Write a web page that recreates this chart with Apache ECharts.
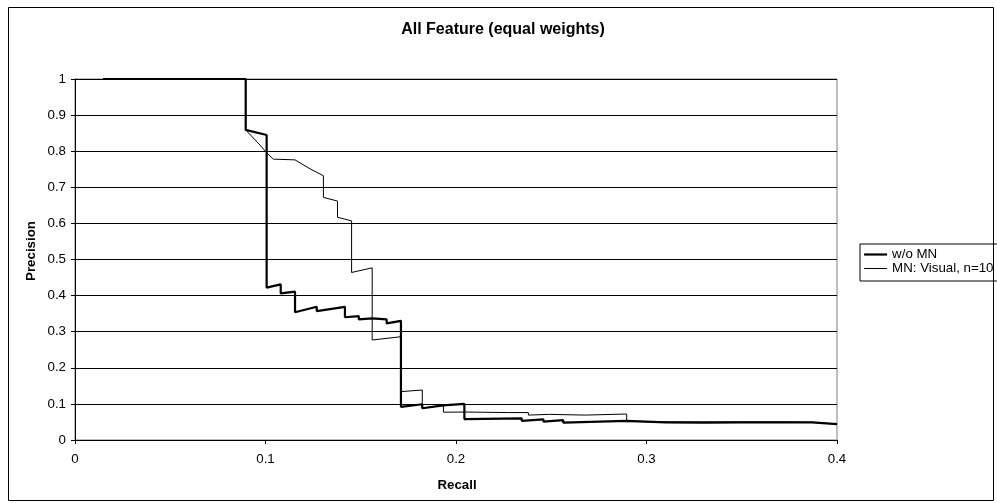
<!DOCTYPE html>
<html>
<head>
<meta charset="utf-8">
<script src="https://cdn.jsdelivr.net/npm/echarts@6/dist/echarts.min.js"></script>
<style>html,body{margin:0;padding:0;background:#fff}#c{width:997px;height:503px}</style>
</head>
<body>
<div id="c"></div>
<script>
var titleText = 'All Feature (equal weights)';
var xTitle = 'Recall';
var yTitle = 'Precision';
var seriesNames = ['w/o MN', 'MN: Visual, n=10'];

var recallA = [0.0147,0.0896,0.0896,0.1006,0.1006,0.108,0.108,0.1155,0.1155,0.1269,0.1269,0.1417,0.1417,0.149,0.149,0.156,0.156,0.1636,0.1636,0.1711,0.1711,0.1823,0.1823,0.1934,0.2044,0.2044,0.2345,0.2345,0.2459,0.2459,0.2563,0.2563,0.2896,0.2896,0.31,0.31,0.33,0.33,0.35,0.35,0.387,0.387,0.4];
var precisionA = [1,1,0.859,0.845,0.422,0.431,0.406,0.411,0.354,0.369,0.357,0.369,0.340,0.343,0.334,0.337,0.332,0.334,0.323,0.330,0.092,0.099,0.088,0.096,0.1,0.058,0.06,0.053,0.057,0.051,0.055,0.048,0.053,0.048,0.049,0.047,0.048,0.047,0.049,0.047,0.049,0.044,0.044];

var recallB = [0.0147,0.0896,0.0896,0.0971,0.1006,0.1041,0.1155,0.1234,0.1304,0.1304,0.1378,0.1378,0.1452,0.1452,0.156,0.156,0.171,0.171,0.1823,0.1823,0.1934,0.1934,0.2044,0.2044,0.2275,0.2275,0.238,0.238,0.249,0.249,0.268,0.2896,0.2896,0.33,0.33,0.37,0.387,0.387,0.4];
var precisionB = [1,1,0.859,0.817,0.796,0.778,0.776,0.751,0.732,0.672,0.662,0.617,0.607,0.464,0.477,0.277,0.286,0.134,0.1385,0.088,0.097,0.077,0.0775,0.073,0.076,0.074,0.076,0.069,0.071,0.068,0.069,0.072,0.051,0.05,0.048,0.05,0.049,0.045,0.044];

function pairs(xs, ys){ return xs.map(function(x,i){ return [x, ys[i]]; }); }

var chart = echarts.init(document.getElementById('c'), null, {renderer:'canvas'});
var font = 'Liberation Sans, Arial, sans-serif';
chart.setOption({
  animation: false,
  backgroundColor: '#fff',
  textStyle: {fontFamily: font},
  title: {text: titleText, left: 503, textAlign: 'center', top: 22, padding: 0,
    textStyle: {fontSize: 16, fontWeight: 'bold', color: '#000', fontFamily: font}},
  graphic: [
    {type:'rect', shape:{x:8.5,y:7.5,width:985,height:493}, style:{fill:null, stroke:'#000', lineWidth:1}, z:-1},
    {type:'text', x:457, y:485, style:{text:xTitle, font:'bold 13.3px Liberation Sans, Arial, sans-serif', fill:'#000', align:'center', verticalAlign:'middle'}},
    {type:'text', x:31, y:251, rotation: Math.PI/2, style:{text:yTitle, font:'bold 13.3px Liberation Sans, Arial, sans-serif', fill:'#000', align:'center', verticalAlign:'middle'}}
  ],
  grid: {left: 75, right: 160, top: 79, bottom: 63, show: true, borderColor: '#808080', borderWidth: 1},
  legend: {
    left: 860, top: 244, orient: 'vertical',
    borderColor: '#000', borderWidth: 1, padding: [4, 20, 6, 3],
    itemWidth: 23, itemHeight: 15, itemGap: 1,
    itemStyle: {opacity: 0},
    textStyle: {fontSize: 13.3, color: '#000', fontFamily: font},
    data: [
      {name: seriesNames[0], lineStyle: {width: 2.2, color: '#000'}},
      {name: seriesNames[1], lineStyle: {width: 1, color: '#000'}}
    ]
  },
  xAxis: {
    type: 'value', min: 0, max: 0.4, interval: 0.1,
    axisLine: {lineStyle: {color: '#000', width: 1}},
    axisTick: {show: true, inside: false, length: 4, lineStyle: {color: '#000'}},
    axisLabel: {fontSize: 13.3, color: '#000', margin: 13},
    splitLine: {show: false}
  },
  yAxis: {
    type: 'value', min: 0, max: 1, interval: 0.1,
    axisLine: {show: true, lineStyle: {color: '#000', width: 1}},
    axisTick: {show: true, inside: false, length: 4, lineStyle: {color: '#000'}},
    axisLabel: {fontSize: 13.3, color: '#000', margin: 9},
    splitLine: {show: true, lineStyle: {color: '#000', width: 1}}
  },
  series: [
    {name: seriesNames[0], type: 'line', data: pairs(recallA, precisionA), symbol: 'none',
     lineStyle: {color: '#000', width: 2.2}, itemStyle: {color: '#000'}, z: 3},
    {name: seriesNames[1], type: 'line', data: pairs(recallB, precisionB), symbol: 'none',
     lineStyle: {color: '#000', width: 1}, itemStyle: {color: '#000'}, z: 4}
  ]
});
</script>
</body>
</html>
